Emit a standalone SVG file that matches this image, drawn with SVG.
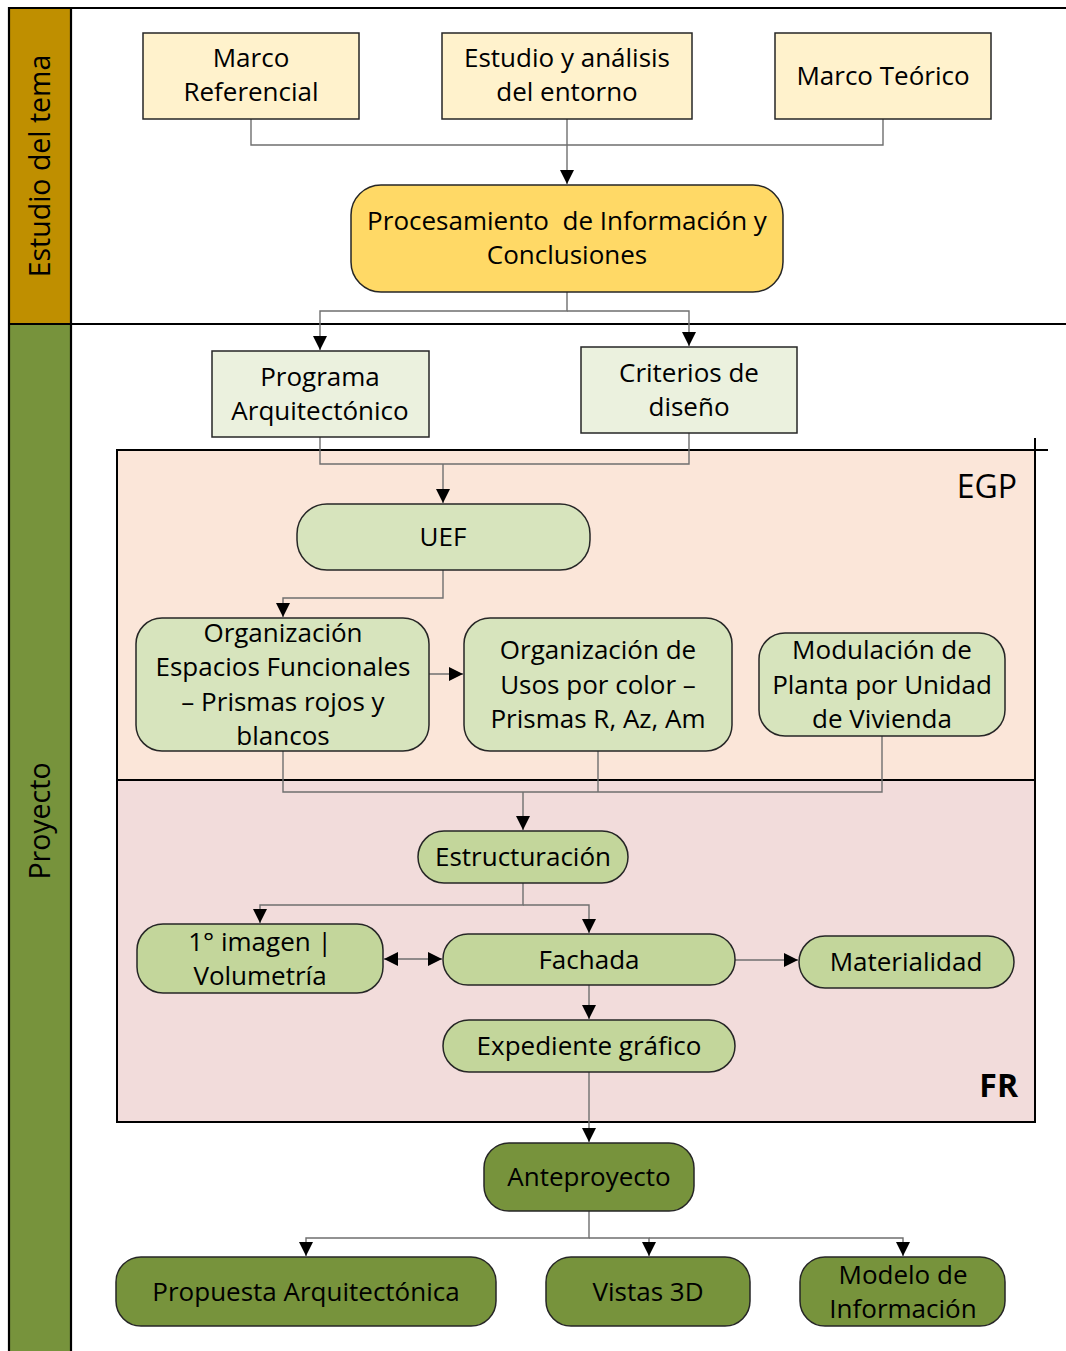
<svg xmlns="http://www.w3.org/2000/svg" width="1066" height="1351" viewBox="0 0 1066 1351">
<style>
text{font-family:"Open Sans","Noto Sans",sans-serif;font-size:26px;fill:#000;text-anchor:middle}
.lane{font-size:28.5px}
.sq{stroke:#262626;stroke-width:1.5}
.rd{stroke:#262626;stroke-width:1.5}
.cn{fill:none;stroke:#6f6f6f;stroke-width:1.4}
.frame{fill:none;stroke:#000;stroke-width:2.2}
.region{stroke:#000;stroke-width:2}
.big{font-size:32px;text-anchor:end}
</style>
<defs>
<marker id="ah" markerUnits="userSpaceOnUse" markerWidth="16" markerHeight="16" viewBox="0 0 16 16" refX="15" refY="8" orient="auto">
<path d="M1,1 L15,8 L1,15 Z" fill="#000"/>
</marker>
<marker id="ahs" markerUnits="userSpaceOnUse" markerWidth="16" markerHeight="16" viewBox="0 0 16 16" refX="1" refY="8" orient="auto">
<path d="M15,1 L1,8 L15,15 Z" fill="#000"/>
</marker>
</defs>
<rect width="1066" height="1351" fill="#fff"/>
<g id="lanes">
<rect x="9" y="8" width="62" height="316" fill="#BF8F00"/>
<rect x="9" y="324" width="62" height="1030" fill="#77933C"/>
<path class="frame" d="M9,1354 V8 H1066 M9,324 H1066 M71,8 V1354"/>
<text class="lane" transform="translate(50,166) rotate(-90)">Estudio del tema</text>
<text class="lane" transform="translate(50,821) rotate(-90)">Proyecto</text>
</g>
<g id="regions">
<rect id="EGP" class="region" x="117" y="450" width="918" height="330" fill="#FBE6D9"/>
<rect id="FR" class="region" x="117" y="780" width="918" height="342" fill="#F2DCDB"/>
<path d="M1035,438 V450 M1035,450 H1048" stroke="#000" stroke-width="2"/>
<text class="big" x="1017" y="498">EGP</text>
<text class="big" x="1018" y="1097" font-weight="bold" font-size="33">FR</text>
</g>
<g id="connectors">
<path class="cn" d="M251,119 V145 H883 V119"/>
<path class="cn" d="M567,119 V184" marker-end="url(#ah)"/>
<path class="cn" d="M567,292 V311 H320 V350" marker-end="url(#ah)"/>
<path class="cn" d="M567,311 H689 V346" marker-end="url(#ah)"/>
<path class="cn" d="M320,437 V464 H689 V433"/>
<path class="cn" d="M443,464 V503" marker-end="url(#ah)"/>
<path class="cn" d="M443,570 V598 H283 V617" marker-end="url(#ah)"/>
<path class="cn" d="M429,674 H463" marker-end="url(#ah)"/>
<path class="cn" d="M283,751 V792 H882 V736 M598,751 V792"/>
<path class="cn" d="M523,792 V830" marker-end="url(#ah)"/>
<path class="cn" d="M523,883 V905 H260 V923" marker-end="url(#ah)"/>
<path class="cn" d="M523,905 H589 V933" marker-end="url(#ah)"/>
<path class="cn" d="M384,959 H442" marker-start="url(#ahs)" marker-end="url(#ah)"/>
<path class="cn" d="M735,960 H798" marker-end="url(#ah)"/>
<path class="cn" d="M589,985 V1019" marker-end="url(#ah)"/>
<path class="cn" d="M589,1072 V1142" marker-end="url(#ah)"/>
<path class="cn" d="M589,1211 V1238 H306 V1256" marker-end="url(#ah)"/>
<path class="cn" d="M589,1238 H649 V1256" marker-end="url(#ah)"/>
<path class="cn" d="M649,1238 H903 V1256" marker-end="url(#ah)"/>
</g>
<g id="n-marco-ref">
<rect class="sq" x="143" y="33" width="216" height="86" fill="#FFF2CC"/>
<text x="251" y="67">Marco</text><text x="251" y="101">Referencial</text>
</g>
<g id="n-estudio">
<rect class="sq" x="442" y="33" width="250" height="86" fill="#FFF2CC"/>
<text x="567" y="67">Estudio y análisis</text><text x="567" y="101">del entorno</text>
</g>
<g id="n-marco-teo">
<rect class="sq" x="775" y="33" width="216" height="86" fill="#FFF2CC"/>
<text x="883" y="85">Marco Teórico</text>
</g>
<g id="n-proc">
<rect class="rd" x="351" y="185" width="432" height="107" rx="30" fill="#FFD966"/>
<text x="567" y="230" xml:space="preserve" style="white-space:pre">Procesamiento  de Información y</text><text x="567" y="264">Conclusiones</text>
</g>
<g id="n-programa">
<rect class="sq" x="212" y="351" width="217" height="86" fill="#EBF1DE"/>
<text x="320" y="386">Programa</text><text x="320" y="420">Arquitectónico</text>
</g>
<g id="n-criterios">
<rect class="sq" x="581" y="347" width="216" height="86" fill="#EBF1DE"/>
<text x="689" y="382">Criterios de</text><text x="689" y="416">diseño</text>
</g>
<g id="n-uef">
<rect class="rd" x="297" y="504" width="293" height="66" rx="30" fill="#D7E4BD"/>
<text x="443" y="546">UEF</text>
</g>
<g id="n-org-esp">
<rect class="rd" x="136" y="618" width="293" height="133" rx="26" fill="#D7E4BD"/>
<text x="283" y="642">Organización</text><text x="283" y="676">Espacios Funcionales</text><text x="283" y="711">– Prismas rojos y</text><text x="283" y="745">blancos</text>
</g>
<g id="n-org-usos">
<rect class="rd" x="464" y="618" width="268" height="133" rx="26" fill="#D7E4BD"/>
<text x="598" y="659">Organización de</text><text x="598" y="694">Usos por color –</text><text x="598" y="728">Prismas R, Az, Am</text>
</g>
<g id="n-modulacion">
<rect class="rd" x="759" y="633" width="246" height="103" rx="26" fill="#D7E4BD"/>
<text x="882" y="659">Modulación de</text><text x="882" y="694">Planta por Unidad</text><text x="882" y="728">de Vivienda</text>
</g>
<g id="n-estructuracion">
<rect class="rd" x="418" y="831" width="210" height="52" rx="26" fill="#C3D69B"/>
<text x="523" y="866">Estructuración</text>
</g>
<g id="n-imagen">
<rect class="rd" x="137" y="924" width="246" height="69" rx="26" fill="#C3D69B"/>
<text x="260" y="951">1° imagen |</text><text x="260" y="985">Volumetría</text>
</g>
<g id="n-fachada">
<rect class="rd" x="443" y="934" width="292" height="51" rx="25" fill="#C3D69B"/>
<text x="589" y="969">Fachada</text>
</g>
<g id="n-materialidad">
<rect class="rd" x="799" y="936" width="215" height="52" rx="26" fill="#C3D69B"/>
<text x="906" y="971">Materialidad</text>
</g>
<g id="n-expediente">
<rect class="rd" x="443" y="1020" width="292" height="52" rx="26" fill="#C3D69B"/>
<text x="589" y="1055">Expediente gráfico</text>
</g>
<g id="n-ante">
<rect class="rd" x="484" y="1143" width="210" height="68" rx="25" fill="#77933C"/>
<text x="589" y="1186">Anteproyecto</text>
</g>
<g id="n-propuesta">
<rect class="rd" x="116" y="1257" width="380" height="69" rx="25" fill="#77933C"/>
<text x="306" y="1301">Propuesta Arquitectónica</text>
</g>
<g id="n-vistas">
<rect class="rd" x="546" y="1257" width="204" height="69" rx="25" fill="#77933C"/>
<text x="648" y="1301">Vistas 3D</text>
</g>
<g id="n-modelo">
<rect class="rd" x="800" y="1257" width="205" height="69" rx="25" fill="#77933C"/>
<text x="903" y="1284">Modelo de</text><text x="903" y="1318">Información</text>
</g>
</svg>
